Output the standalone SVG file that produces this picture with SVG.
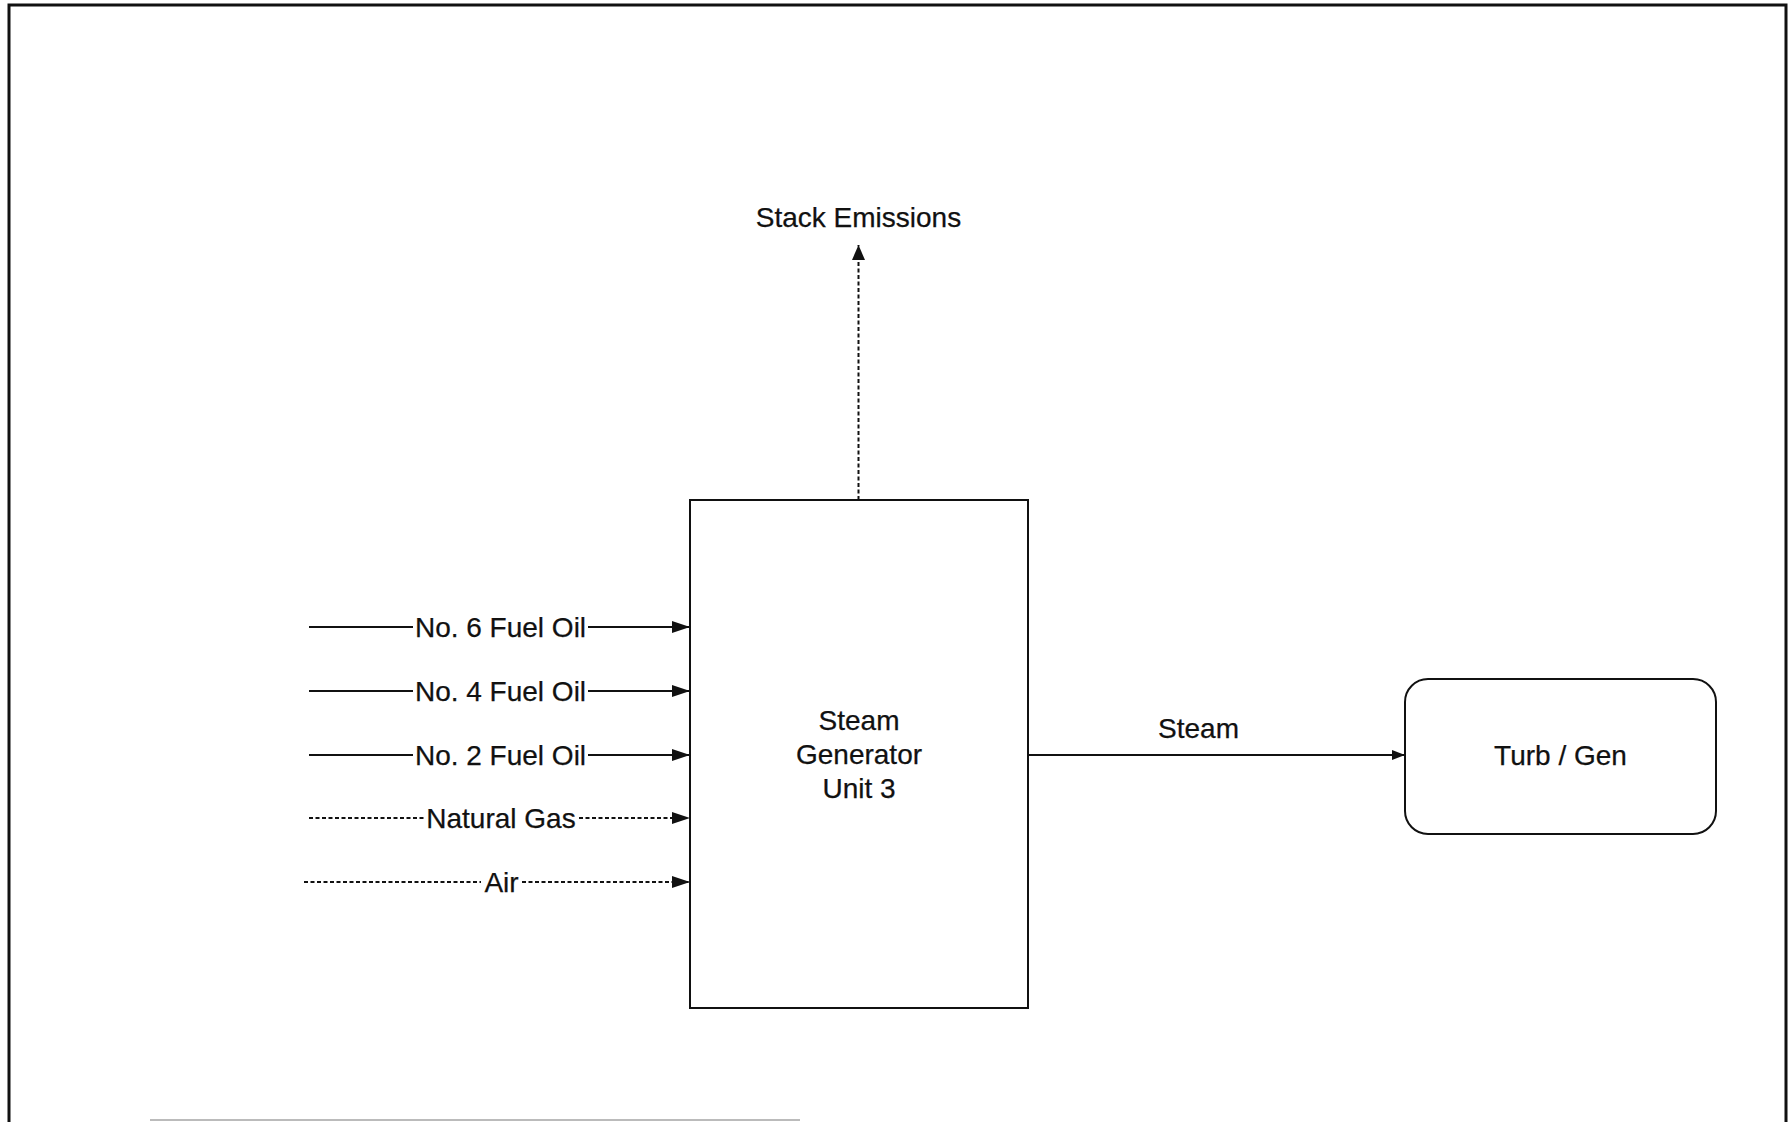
<svg xmlns="http://www.w3.org/2000/svg" width="1790" height="1122" viewBox="0 0 1790 1122">
<style>
text{font-family:"Liberation Sans",Arial,sans-serif;font-size:28px;fill:#111;text-anchor:middle;stroke:#111;stroke-width:0.25}
.box{fill:#fff;stroke:#111;stroke-width:2}
.ln{stroke:#111;stroke-width:2;fill:none}
.dash{stroke-dasharray:4 2.5}
</style>
<defs>
<marker id="ah" viewBox="0 0 18 12" refX="18" refY="6" markerWidth="18" markerHeight="12" markerUnits="userSpaceOnUse" orient="auto">
<path d="M0,0 L18,6 L0,12 Z" fill="#111"/>
</marker>
<marker id="ahu" viewBox="0 0 15 13" refX="15" refY="6.5" markerWidth="15" markerHeight="13" markerUnits="userSpaceOnUse" orient="auto">
<path d="M0,0 L15,6.5 L0,13 Z" fill="#111"/>
</marker>
<marker id="ahs" viewBox="0 0 13 10" refX="13" refY="5" markerWidth="13" markerHeight="10" markerUnits="userSpaceOnUse" orient="auto">
<path d="M0,0 L13,5 L0,10 Z" fill="#111"/>
</marker>
</defs>
<rect width="1790" height="1122" fill="#fff"/>
<g id="frame">
<path d="M9,1122 L9,5 L1786,5 L1786,1122" fill="none" stroke="#111" stroke-width="3"/>
<line x1="150" y1="1120" x2="800" y2="1120" stroke="#bbb" stroke-width="2"/>
</g>
<g id="connectors">
<line class="ln dash" x1="858.5" y1="500" x2="858.5" y2="245" marker-end="url(#ahu)"/>
<line class="ln" x1="309" y1="627" x2="413" y2="627"/>
<line class="ln" x1="588" y1="627" x2="690" y2="627" marker-end="url(#ah)"/>
<line class="ln" x1="309" y1="691" x2="413" y2="691"/>
<line class="ln" x1="588" y1="691" x2="690" y2="691" marker-end="url(#ah)"/>
<line class="ln" x1="309" y1="755" x2="413" y2="755"/>
<line class="ln" x1="588" y1="755" x2="690" y2="755" marker-end="url(#ah)"/>
<line class="ln dash" x1="309" y1="818" x2="424" y2="818"/>
<line class="ln dash" x1="579" y1="818" x2="690" y2="818" marker-end="url(#ah)"/>
<line class="ln dash" x1="304" y1="882" x2="481" y2="882"/>
<line class="ln dash" x1="522" y1="882" x2="690" y2="882" marker-end="url(#ah)"/>
<line class="ln" stroke-width="1.5" x1="1028" y1="755" x2="1405" y2="755" marker-end="url(#ahs)"/>
<text x="858.5" y="227">Stack Emissions</text>
<text x="500.5" y="637">No. 6 Fuel Oil</text>
<text x="500.5" y="701">No. 4 Fuel Oil</text>
<text x="500.5" y="765">No. 2 Fuel Oil</text>
<text x="501" y="828">Natural Gas</text>
<text x="501.5" y="892">Air</text>
<text x="1198.5" y="738">Steam</text>
</g>
<g id="steam-generator">
<rect class="box" x="690" y="500" width="338" height="508"/>
<text x="859" y="730">Steam</text>
<text x="859" y="764">Generator</text>
<text x="859" y="798">Unit 3</text>
</g>
<g id="turb-gen">
<rect class="box" x="1405" y="679" width="311" height="155" rx="23" ry="23"/>
<text x="1560.5" y="765">Turb / Gen</text>
</g>
</svg>
